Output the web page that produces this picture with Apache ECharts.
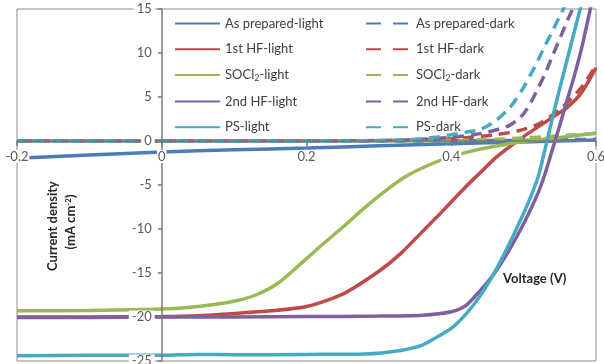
<!DOCTYPE html>
<html>
<head>
<meta charset="utf-8">
<script src="https://cdn.jsdelivr.net/npm/echarts@6/dist/echarts.min.js"></script>
<style>
  html, body { margin: 0; padding: 0; background: #fff; }
  #chart { width: 604px; height: 364px; }
</style>
</head>
<body>
<div id="chart"></div>
<script>
// J–V curves (current density in mA cm^-2 vs. voltage in V), light and dark sweeps
const seriesNames = [
  'As prepared-light', 'As prepared-dark',
  '1st HF-light', '1st HF-dark',
  'SOCl2-light', 'SOCl2-dark',
  '2nd HF-light', '2nd HF-dark',
  'PS-light', 'PS-dark'
];

const apLightV = [-0.2, -0.1, 0, 0.1, 0.2, 0.3, 0.4, 0.5, 0.6];
const apLightJ = [-1.95, -1.6, -1.25, -1.0, -0.8, -0.55, -0.3, -0.1, 0.1];

const apDarkV = [-0.2, 0, 0.2, 0.4, 0.5, 0.6];
const apDarkJ = [0, 0, 0, 0.02, 0.08, 0.2];

const hf1LightV = [-0.2, -0.1, 0, 0.05, 0.1, 0.15, 0.2, 0.25, 0.3, 0.33, 0.36, 0.39, 0.42, 0.44, 0.46, 0.48, 0.5, 0.52, 0.54, 0.56, 0.58, 0.6];
const hf1LightJ = [-20.0, -20.0, -19.95, -19.85, -19.6, -19.3, -18.8, -17.4, -14.8, -12.8, -10.3, -7.8, -5.2, -3.6, -2.0, -0.7, 0.5, 1.6, 2.7, 3.8, 5.5, 8.3];

const hf1DarkV = [-0.2, 0.2, 0.3, 0.35, 0.4, 0.43, 0.46, 0.49, 0.52, 0.55, 0.58, 0.6];
const hf1DarkJ = [0, 0, 0.03, 0.1, 0.25, 0.45, 0.7, 1.1, 1.9, 3.6, 6.1, 8.6];

const soLightV = [-0.2, -0.1, 0, 0.05, 0.1, 0.13, 0.16, 0.19, 0.22, 0.25, 0.28, 0.31, 0.34, 0.37, 0.4, 0.43, 0.46, 0.5, 0.55, 0.6];
const soLightJ = [-19.3, -19.25, -19.1, -18.8, -18.2, -17.5, -16.2, -14.1, -11.9, -9.8, -7.6, -5.6, -3.9, -2.7, -1.75, -1.1, -0.6, -0.05, 0.4, 0.9];

const soDarkV = [-0.2, 0.3, 0.4, 0.45, 0.5, 0.55, 0.6];
const soDarkJ = [0, 0, 0.05, 0.15, 0.35, 0.6, 0.85];

const hf2LightV = [-0.2, -0.1, 0, 0.1, 0.2, 0.3, 0.36, 0.4, 0.42, 0.44, 0.46, 0.48, 0.5, 0.52, 0.53, 0.54, 0.55, 0.56, 0.57, 0.58, 0.59, 0.6];
const hf2LightJ = [-20.05, -20.05, -20.0, -20.0, -19.95, -19.9, -19.8, -19.4, -18.7, -17.0, -15.0, -12.4, -9.4, -5.9, -3.6, -0.9, 1.8, 4.6, 7.4, 10.5, 14.2, 18.0];

const hf2DarkV = [-0.2, 0.2, 0.3, 0.35, 0.4, 0.43, 0.45, 0.47, 0.48, 0.49, 0.5, 0.51, 0.52, 0.53, 0.54, 0.55, 0.56, 0.57, 0.58];
const hf2DarkJ = [0, 0, 0.05, 0.15, 0.4, 0.7, 1.0, 1.45, 1.75, 2.3, 3.1, 4.4, 6.0, 7.7, 9.7, 11.6, 13.6, 15.4, 17.2];

const psLightV = [-0.2, -0.1, 0, 0.05, 0.1, 0.2, 0.28, 0.33, 0.36, 0.38, 0.4, 0.42, 0.44, 0.46, 0.48, 0.5, 0.51, 0.52, 0.53, 0.54, 0.55, 0.56, 0.57, 0.58, 0.59];
const psLightJ = [-24.4, -24.35, -24.35, -24.25, -24.3, -24.25, -24.2, -23.8, -23.2, -22.3, -21.3, -19.7, -17.6, -14.9, -11.7, -8.2, -6.3, -4.1, -0.8, 2.7, 6.0, 9.2, 12.4, 15.6, 18.8];

const psDarkV = [-0.2, 0.2, 0.3, 0.35, 0.38, 0.4, 0.42, 0.44, 0.46, 0.48, 0.49, 0.5, 0.51, 0.52, 0.53, 0.54, 0.55, 0.56, 0.57];
const psDarkJ = [0, 0, 0.05, 0.2, 0.45, 0.7, 1.0, 1.3, 2.2, 3.7, 4.8, 6.1, 7.6, 9.2, 10.9, 12.5, 14.2, 15.8, 17.4];

const xTicks = [-0.2, 0, 0.2, 0.4, 0.6];
const yTicks = [-25, -20, -15, -10, -5, 0, 5, 10, 15];

const BLUE = '#4A7EBB', RED = '#BE4B48', GREEN = '#98B954', PURPLE = '#7D60A0', CYAN = '#46AAC5';
const FONT = 'Lato, "Open Sans", sans-serif';

function pairs(xs, ys) { return xs.map((x, i) => [x, ys[i]]); }

function curve(name, xs, ys, color, dashed, offset) {
  return {
    name: name,
    type: 'line',
    data: pairs(xs, ys),
    symbol: 'none',
    smooth: 0.25,
    clip: true,
    lineStyle: {
      color: color,
      width: 3.5,
      type: dashed ? [11, 7] : 'solid',
      dashOffset: offset || 0,
      cap: 'butt'
    },
    itemStyle: { color: color },
    emphasis: { disabled: true }
  };
}

const series = [
  curve(seriesNames[0], apLightV, apLightJ, BLUE, false),
  curve(seriesNames[1], apDarkV, apDarkJ, BLUE, true, 0),
  curve(seriesNames[2], hf1LightV, hf1LightJ, RED, false),
  curve(seriesNames[3], hf1DarkV, hf1DarkJ, RED, true, 4),
  curve(seriesNames[4], soLightV, soLightJ, GREEN, false),
  curve(seriesNames[5], soDarkV, soDarkJ, GREEN, true, 9),
  curve(seriesNames[6], hf2LightV, hf2LightJ, PURPLE, false),
  curve(seriesNames[7], hf2DarkV, hf2DarkJ, PURPLE, true, 14),
  curve(seriesNames[8], psLightV, psLightJ, CYAN, false),
  curve(seriesNames[9], psDarkV, psDarkJ, CYAN, true, 2)
];

function legendLabel(name) {
  if (name.indexOf('SOCl2') === 0) {
    return '{t|SOCl}{s|2}{t|' + name.slice(5) + '}';
  }
  return '{t|' + name + '}';
}

const legendText = {
  fontSize: 13,
  color: '#404040',
  fontFamily: FONT,
  rich: {
    t: { fontSize: 13, color: '#404040', fontFamily: FONT },
    s: { fontSize: 9, color: '#404040', fontFamily: FONT, verticalAlign: 'bottom', padding: [6, 0, 0, 0] }
  }
};

const axisGray = '#7a7a7a';

// Plot box in pixels; the axes cross at the origin (V = 0, J = 0)
const GRID = { left: 17, right: 8, top: 9, bottom: 3 };
const CW = 604, CH = 364;
const plotW = CW - GRID.left - GRID.right;
const plotH = CH - GRID.top - GRID.bottom;
const xMin = xTicks[0], xMax = xTicks[xTicks.length - 1];
const yMin = yTicks[0], yMax = yTicks[yTicks.length - 1];
const yAxisShift = -plotW * (0 - xMin) / (xMax - xMin);
const xAxisShift = -plotH * (0 - yMin) / (yMax - yMin);

const chart = echarts.init(document.getElementById('chart'), null, { renderer: 'canvas' });

chart.setOption({
  animation: false,
  backgroundColor: '#fff',
  grid: {
    left: GRID.left, right: GRID.right, top: GRID.top, bottom: GRID.bottom,
    containLabel: false,
    outerBoundsMode: 'none',
    show: true, borderColor: '#8c8c8c', borderWidth: 1, backgroundColor: 'transparent'
  },
  xAxis: {
    type: 'value',
    min: xMin, max: xMax, interval: 0.2,
    position: 'bottom',
    offset: xAxisShift,
    z: 10,
    axisLine: { onZero: false, lineStyle: { color: axisGray, width: 1.5 } },
    axisTick: { show: true, length: 5, lineStyle: { color: axisGray, width: 1.5 } },
    splitLine: { show: false },
    axisLabel: {
      color: '#595959', fontSize: 13, fontFamily: FONT, margin: 9,
      backgroundColor: '#fff', padding: [0, 1],
      showMinLabel: true, showMaxLabel: true, hideOverlap: false,
      formatter: v => String(Math.round(v * 10) / 10)
    }
  },
  yAxis: {
    type: 'value',
    min: yMin, max: yMax, interval: 5,
    position: 'left',
    offset: yAxisShift,
    z: 10,
    axisLine: { onZero: false, lineStyle: { color: axisGray, width: 1.5 } },
    axisTick: { show: true, length: 4, lineStyle: { color: axisGray, width: 1.5 } },
    splitLine: { show: false },
    axisLabel: {
      color: '#595959', fontSize: 13, fontFamily: FONT, margin: 7,
      backgroundColor: '#fff', padding: [0, 3],
      showMinLabel: true, showMaxLabel: true, hideOverlap: false
    }
  },
  legend: [
    {
      data: seriesNames.filter((n, i) => i % 2 === 0),
      orient: 'vertical', left: 174, top: 17,
      itemWidth: 45, itemHeight: 14, itemGap: 12.7,
      padding: 0,
      selectedMode: false,
      formatter: legendLabel,
      itemStyle: { opacity: 0, borderWidth: 0 },
      textStyle: legendText
    },
    {
      data: seriesNames.filter((n, i) => i % 2 === 1),
      orient: 'vertical', left: 365, top: 17,
      itemWidth: 45, itemHeight: 14, itemGap: 12.7,
      padding: 0,
      selectedMode: false,
      formatter: legendLabel,
      itemStyle: { opacity: 0, borderWidth: 0 },
      lineStyle: { type: [15, 12], dashOffset: 0 },
      textStyle: legendText
    }
  ],
  graphic: [
    {
      type: 'text', x: 53, y: 226, rotation: Math.PI / 2, z: 20,
      style: {
        text: 'Current density', fontSize: 13, fontWeight: 'bold', fontFamily: FONT,
        fill: '#262626', align: 'center', verticalAlign: 'middle'
      }
    },
    {
      type: 'text', x: 71, y: 222, rotation: Math.PI / 2, z: 20,
      style: {
        text: '{a|(mA cm}{s|-2}{a|)}', fontFamily: FONT,
        align: 'center', verticalAlign: 'middle',
        rich: {
          a: { fontSize: 13, fontWeight: 'bold', fontFamily: FONT, fill: '#262626' },
          s: { fontSize: 8, fontWeight: 'bold', fontFamily: FONT, fill: '#262626', verticalAlign: 'top', padding: [0, 0, 6, 0] }
        }
      }
    },
    {
      type: 'text', x: 503, y: 279, z: 20,
      style: {
        text: 'Voltage (V)', fontSize: 13, fontWeight: 'bold', fontFamily: FONT,
        fill: '#262626', align: 'left', verticalAlign: 'middle'
      }
    }
  ],
  series: series
});
</script>
</body>
</html>
